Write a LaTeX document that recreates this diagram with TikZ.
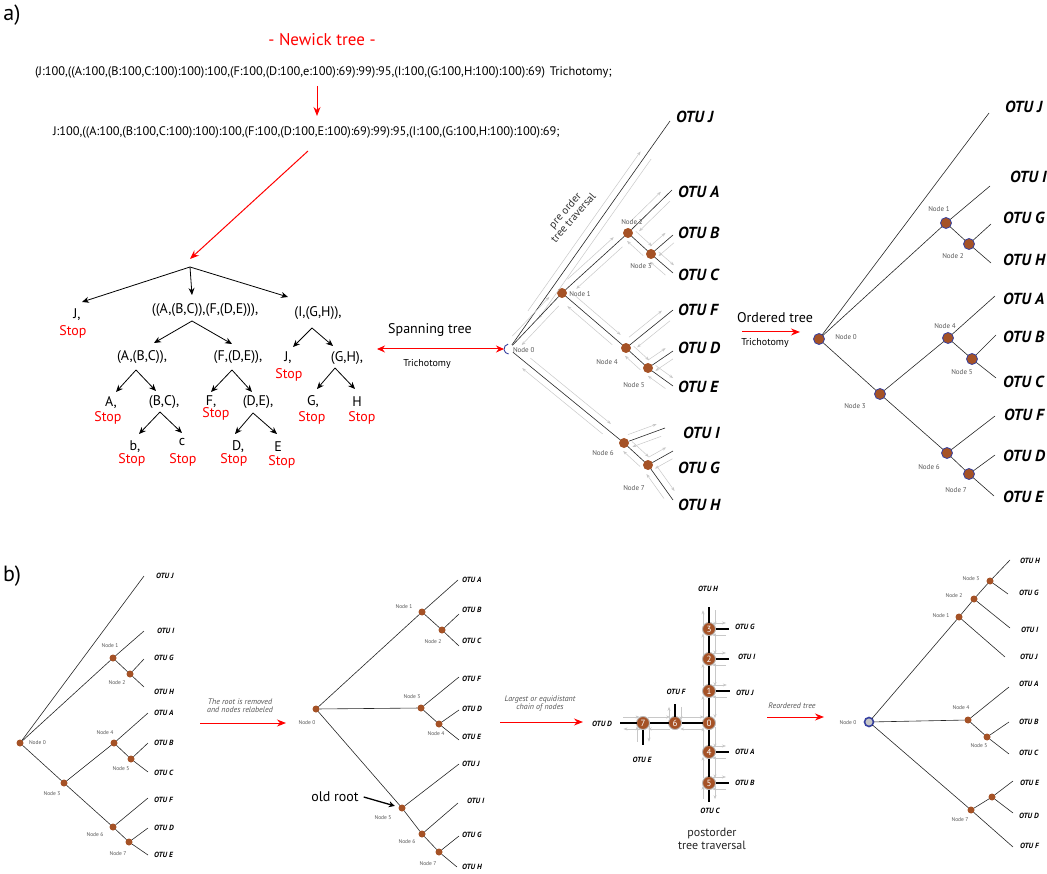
\documentclass[tikz,border=0pt]{standalone}
\usepackage{fontspec}
\setmainfont{PT Sans}
\usetikzlibrary{arrows.meta,calc}
\definecolor{nodebrown}{RGB}{165,82,38}
\definecolor{nodeblue}{RGB}{55,65,160}
\definecolor{labgray}{RGB}{85,85,85}
\definecolor{travgray}{RGB}{200,200,200}
\newcommand\myfs[1]{\fontsize{#1}{#1}\selectfont}
\newcommand\travpair[3]{%
 \draw[trav] ($(#1)!0.15!(#2)!#3!90:(#2)$) -- ($(#1)!0.85!(#2)!#3!-90:(#1)$);
 \draw[trav] ($(#2)!0.15!(#1)!#3!90:(#1)$) -- ($(#2)!0.85!(#1)!#3!-90:(#2)$);}
\tikzset{
 every node/.style={inner sep=0pt, outer sep=0pt},
 expr/.style={font=\myfs{14}},
 stopl/.style={font=\myfs{14}, text=red},
 earr/.style={-{Stealth[length=7pt,width=6pt]}, line width=0.8pt},
 redarr/.style={red, line width=1pt, -{Stealth[length=9pt,width=7pt]}},
 redboth/.style={red, line width=1pt, {Stealth[length=8pt,width=7pt]}-{Stealth[length=8pt,width=7pt]}},
 otuL/.style={font=\myfs{16}\bfseries\itshape, anchor=west},
 otuS/.style={font=\myfs{7.5}\bfseries\itshape},
 nlabL/.style={font=\myfs{7}, text=labgray},
 nlabS/.style={font=\myfs{5.5}, text=labgray},
 brline/.style={line width=0.6pt, black!85},
 dotL/.style={circle, fill=nodebrown, minimum size=10pt},
 dotLb/.style={circle, fill=nodebrown, draw=nodeblue, line width=0.8pt, minimum size=11pt},
 dotS/.style={circle, fill=nodebrown, minimum size=7pt},
 trav/.style={travgray, line width=0.5pt, -{Stealth[length=4pt,width=3pt]}},
 chainnode/.style={circle, fill=nodebrown, draw=gray!55, line width=0.9pt, minimum size=13pt, text=white, font=\myfs{9}},
 chainline/.style={line width=2pt, black},
 note/.style={font=\myfs{8}\itshape, text=labgray, align=center},
}
\begin{document}
\begin{tikzpicture}[x=1pt,y=-1pt]
\path[use as bounding box] (0,0) rectangle (1047,874);

% ---------------- part a ----------------
\node[font=\myfs{22}] (la) at (12,15) {a)};
\node[font=\myfs{17}, text=red] (newtitle) at (322,40) {- Newick tree -};
\node[font=\myfs{12.4}, anchor=west] (nw1) at (35,72) {(J:100,((A:100,(B:100,C:100):100):100,(F:100,(D:100,e:100):69):99):95,(I:100,(G:100,H:100):100):69)\hspace{1.5pt} Trichotomy;};
\node[font=\myfs{12.4}, anchor=west] (nw2) at (53,132) {J:100,((A:100,(B:100,C:100):100):100,(F:100,(D:100,E:100):69):99):95,(I:100,(G:100,H:100):100):69;};
\coordinate (ra1s) at (317,86);
\coordinate (ra1e) at (317,116);
\draw[redarr] (ra1s) -- (ra1e);
\coordinate (ra2s) at (308,151);
\coordinate (ra2e) at (190,259);
\draw[redarr] (ra2s) -- (ra2e);

% expression tree
\node[expr] (eJ) at (77,315) {J,};
\node[stopl] (sJ) at (73,332) {Stop};
\node[expr] (eM) at (205,310) {((A,(B,C)),(F,(D,E))),};
\node[expr] (eR) at (318,313) {(I,(G,H)),};
\node[expr] (eABC) at (142,357) {(A,(B,C)),};
\node[expr] (eFDE) at (238,357) {(F,(D,E)),};
\node[expr] (eA) at (111,403) {A,};
\node[stopl] (sA) at (108,418) {Stop};
\node[expr] (eBC) at (164,402) {(B,C),};
\node[expr] (eF) at (211,402) {F,};
\node[stopl] (sF) at (216,414) {Stop};
\node[expr] (eDE) at (258,402) {(D,E),};
\node[expr] (eb) at (135,447) {b,};
\node[stopl] (sb) at (132,460) {Stop};
\node[expr] (ec) at (182,442) {c};
\node[stopl] (sc) at (183,460) {Stop};
\node[expr] (eD) at (238,447) {D,};
\node[stopl] (sD) at (234,460) {Stop};
\node[expr] (eE) at (278,447) {E};
\node[stopl] (sE) at (282,462) {Stop};
\node[expr] (eJ2) at (288,358) {J,};
\node[stopl] (sJ2) at (289,375) {Stop};
\node[expr] (eGH) at (347,358) {(G,H),};
\node[expr] (eG) at (313,402) {G,};
\node[stopl] (sG) at (312,418) {Stop};
\node[expr] (eH) at (357,402) {H};
\node[stopl] (sH) at (362,418) {Stop};

\coordinate (jr) at (190,267);
\draw[earr] (jr) -- ++(-108,35);
\draw[earr] (jr) -- ++(2,28);
\draw[earr] (jr) -- ++(98,30);
\coordinate (jm) at (192,321);
\draw[earr] (jm) -- ++(-38,22);
\draw[earr] (jm) -- ++(40,23);
\coordinate (jabc) at (136,370);
\draw[earr] (jabc) -- ++(-20,22);
\draw[earr] (jabc) -- ++(20,21);
\coordinate (jbc) at (160,412);
\draw[earr] (jbc) -- ++(-21,22);
\draw[earr] (jbc) -- ++(22,21);
\coordinate (jfde) at (232,370);
\draw[earr] (jfde) -- ++(-21,22);
\draw[earr] (jfde) -- ++(20,22);
\coordinate (jde) at (253,413);
\draw[earr] (jde) -- ++(-18,21);
\draw[earr] (jde) -- ++(24,21);
\coordinate (jir) at (312,328);
\draw[earr] (jir) -- ++(-19,19);
\draw[earr] (jir) -- ++(21,18);
\coordinate (jgh) at (335,368);
\draw[earr] (jgh) -- ++(-18,21);
\draw[earr] (jgh) -- ++(20,21);

% spanning tree arrow
\node[font=\myfs{14}] (spt) at (430,330) {Spanning tree};
\node[font=\myfs{10}] (tri1) at (427,364) {Trichotomy};

% middle tree
\node[circle, minimum size=10pt] (m0) at (509,349) {};
\draw[nodeblue, line width=0.9pt] ([shift={(100:5pt)}]m0.center) arc[start angle=100, end angle=265, radius=5pt];
\coordinate (sps) at (377,349);
\draw[redboth] (sps) -- (m0);
\node[dotL] (m1) at (562,293) {};
\node[dotL] (m2) at (628,233) {};
\node[dotL] (m3) at (651,254) {};
\node[dotL] (m4) at (626,348) {};
\node[dotL] (m5) at (648,368) {};
\node[dotL] (m6) at (624,443) {};
\node[dotL] (m7) at (648,465) {};
\coordinate (mJ) at (670,121);
\coordinate (mA) at (672,190);
\coordinate (mB) at (673,235);
\coordinate (mC) at (673,273);
\coordinate (mF) at (673,310);
\coordinate (mD) at (673,351);
\coordinate (mE) at (673,386);
\coordinate (mI) at (665,428);
\coordinate (mG) at (673,451);
\coordinate (mH) at (673,500);
\foreach \a/\b in {m0/mJ, m0/m1, m1/m2, m2/mA, m2/m3, m3/mB, m3/mC, m1/m4, m4/mF, m4/m5, m5/mD, m5/mE, m0/m6, m6/mI, m6/m7, m7/mG, m7/mH}
  {\draw[brline] (\a) -- (\b); \travpair{\a}{\b}{6.5pt}}
\node[otuL] (tJ) at (676,117) {OTU J};
\node[otuL] (tA) at (678,192) {OTU A};
\node[otuL] (tB) at (678,233) {OTU B};
\node[otuL] (tC) at (678,275) {OTU C};
\node[otuL] (tF) at (678,310) {OTU F};
\node[otuL] (tD) at (678,348) {OTU D};
\node[otuL] (tE) at (678,387) {OTU E};
\node[otuL] (tI) at (683,433) {OTU I};
\node[otuL] (tG) at (678,468) {OTU G};
\node[otuL] (tH) at (678,505) {OTU H};
\node[nlabL, anchor=west] (ml0) at (513,350) {Node 0};
\node[nlabL] (ml1) at (580,294) {Node 1};
\node[nlabL] (ml2) at (632,222) {Node 2};
\node[nlabL] (ml3) at (641,266) {Node 3};
\node[nlabL] (ml4) at (607,362) {Node 4};
\node[nlabL] (ml5) at (634,385) {Node 5};
\node[nlabL] (ml6) at (603,453) {Node 6};
\node[nlabL] (ml7) at (634,488) {Node 7};
\node[font=\myfs{11}, align=center, rotate=49, text=black!80] (preo) at (569,214) {pre order\\tree traversal};

% ordered tree
\node[font=\myfs{14}] (ordt) at (775,318) {Ordered tree};
\coordinate (oas) at (742,332);
\coordinate (oae) at (800,332);
\draw[redarr] (oas) -- (oae);
\node[font=\myfs{10}] (tri2) at (765,343) {Trichotomy};

\node[dotLb] (r0) at (819,339) {};
\node[dotLb] (r1) at (946,223) {};
\node[dotLb] (r2) at (969,244) {};
\node[dotLb] (r3) at (880,394) {};
\node[dotLb] (r4) at (948,338) {};
\node[dotLb] (r5) at (972,359) {};
\node[dotLb] (r6) at (947,453) {};
\node[dotLb] (r7) at (969,474) {};
\coordinate (rJ) at (989,113);
\coordinate (rI) at (990,186);
\coordinate (rG) at (991,224);
\coordinate (rH) at (991,263);
\coordinate (rA) at (995,296);
\coordinate (rB) at (996,335);
\coordinate (rC) at (996,378);
\coordinate (rF) at (995,416);
\coordinate (rD) at (995,455);
\coordinate (rE) at (994,496);
\foreach \a/\b in {r0/rJ, r0/r1, r1/rI, r1/r2, r2/rG, r2/rH, r0/r3, r3/r4, r4/rA, r4/r5, r5/rB, r5/rC, r3/r6, r6/rF, r6/r7, r7/rD, r7/rE}
  {\draw[brline] (\a) -- (\b);}
\node[otuL] (uJ) at (1005,107) {OTU J};
\node[otuL] (uI) at (1010,177) {OTU I};
\node[otuL] (uG) at (1003,218) {OTU G};
\node[otuL] (uH) at (1003,260) {OTU H};
\node[otuL] (uA) at (1003,299) {OTU A};
\node[otuL] (uB) at (1003,337) {OTU B};
\node[otuL] (uC) at (1003,382) {OTU C};
\node[otuL] (uF) at (1004,415) {OTU F};
\node[otuL] (uD) at (1003,456) {OTU D};
\node[otuL] (uE) at (1003,497) {OTU E};
\node[nlabL] (rl0) at (846,337) {Node 0};
\node[nlabL] (rl1) at (939,209) {Node 1};
\node[nlabL] (rl2) at (953,256) {Node 2};
\node[nlabL] (rl3) at (855,406) {Node 3};
\node[nlabL] (rl4) at (945,326) {Node 4};
\node[nlabL] (rl5) at (962,372) {Node 5};
\node[nlabL] (rl6) at (929,467) {Node 6};
\node[nlabL] (rl7) at (956,490) {Node 7};

% ---------------- part b ----------------
\node[font=\myfs{22}] (lb) at (12,576) {b)};

% tree 1
\node[dotS] (b0) at (20,743) {};
\node[dotS] (b1) at (113,658) {};
\node[dotS] (b2) at (130,674) {};
\node[dotS] (b3) at (64,783) {};
\node[dotS] (b4) at (114,743) {};
\node[dotS] (b5) at (131,759) {};
\node[dotS] (b6) at (113,827) {};
\node[dotS] (b7) at (129,842) {};
\coordinate (bJ) at (144,576);
\coordinate (bI) at (144,631);
\coordinate (bG) at (144,659);
\coordinate (bH) at (144,687);
\coordinate (bA) at (148,713);
\coordinate (bB) at (148,743);
\coordinate (bC) at (148,772);
\coordinate (bF) at (148,798);
\coordinate (bD) at (148,828);
\coordinate (bE) at (148,855);
\foreach \a/\b in {b0/bJ, b0/b1, b1/bI, b1/b2, b2/bG, b2/bH, b0/b3, b3/b4, b4/bA, b4/b5, b5/bB, b5/bC, b3/b6, b6/bF, b6/b7, b7/bD, b7/bE}
  {\draw[brline] (\a) -- (\b);}
\node[otuS, anchor=west] (vJ) at (156,576) {OTU J};
\node[otuS, anchor=west] (vI) at (157,631) {OTU I};
\node[otuS, anchor=west] (vG) at (154,658) {OTU G};
\node[otuS, anchor=west] (vH) at (154,692) {OTU H};
\node[otuS, anchor=west] (vA) at (154,713) {OTU A};
\node[otuS, anchor=west] (vB) at (154,743) {OTU B};
\node[otuS, anchor=west] (vC) at (154,773) {OTU C};
\node[otuS, anchor=west] (vF) at (154,800) {OTU F};
\node[otuS, anchor=west] (vD) at (154,828) {OTU D};
\node[otuS, anchor=west] (vE) at (154,855) {OTU E};
\node[nlabS, anchor=west] (bl0) at (29,743) {Node 0};
\node[nlabS] (bl1) at (110,646) {Node 1};
\node[nlabS] (bl2) at (117,683) {Node 2};
\node[nlabS] (bl3) at (52,794) {Node 3};
\node[nlabS] (bl4) at (105,733) {Node 4};
\node[nlabS] (bl5) at (121,769) {Node 5};
\node[nlabS] (bl6) at (95,835) {Node 6};
\node[nlabS] (bl7) at (118,854) {Node 7};

% arrow 1
\node[note] (n1) at (240,706) {The root is removed\\and nodes relabeled};
\coordinate (a1s) at (200,723);
\coordinate (a1e) at (286,723);
\draw[redarr] (a1s) -- (a1e);

% tree 2
\node[dotS] (c0) at (316,709) {};
\node[dotS] (c1) at (422,612) {};
\node[dotS] (c2) at (442,630) {};
\node[dotS] (c3) at (421,708) {};
\node[dotS] (c4) at (439,724) {};
\node[dotS] (c5) at (402,808) {};
\node[dotS] (c6) at (422,834) {};
\node[dotS] (c7) at (439,852) {};
\coordinate (cA) at (458,580);
\coordinate (cB) at (459,614);
\coordinate (cC) at (459,646);
\coordinate (cF) at (459,677);
\coordinate (cD) at (459,710);
\coordinate (cE) at (459,740);
\coordinate (cJ) at (459,764);
\coordinate (cI) at (458,803);
\coordinate (cG) at (459,836);
\coordinate (cH) at (457,867);
\foreach \a/\b in {c0/c1, c1/cA, c1/c2, c2/cB, c2/cC, c0/c3, c3/cF, c3/c4, c4/cD, c4/cE, c0/c5, c5/cJ, c5/c6, c6/cI, c6/c7, c7/cG, c7/cH}
  {\draw[brline] (\a) -- (\b);}
\node[otuS, anchor=west] (wA) at (462,580) {OTU A};
\node[otuS, anchor=west] (wB) at (462,610) {OTU B};
\node[otuS, anchor=west] (wC) at (462,641) {OTU C};
\node[otuS, anchor=west] (wF) at (462,679) {OTU F};
\node[otuS, anchor=west] (wD) at (462,709) {OTU D};
\node[otuS, anchor=west] (wE) at (462,737) {OTU E};
\node[otuS, anchor=west] (wJ) at (462,764) {OTU J};
\node[otuS, anchor=west] (wI) at (467,801) {OTU I};
\node[otuS, anchor=west] (wG) at (462,835) {OTU G};
\node[otuS, anchor=west] (wH) at (462,867) {OTU H};
\node[nlabS] (cl0) at (307,723) {Node 0};
\node[nlabS] (cl1) at (404,607) {Node 1};
\node[nlabS] (cl2) at (433,642) {Node 2};
\node[nlabS] (cl3) at (412,697) {Node 3};
\node[nlabS] (cl4) at (436,734) {Node 4};
\node[nlabS] (cl5) at (383,818) {Node 5};
\node[nlabS] (cl6) at (407,842) {Node 6};
\node[nlabS] (cl7) at (428,864) {Node 7};
\node[font=\myfs{14}] (oldr) at (335,797) {old root};
\draw[line width=1.3pt, -{Stealth[length=6pt,width=6pt]}, shorten >=4pt] ([xshift=5pt]oldr.east) -- (c5);

% arrow 2
\node[note] (n2) at (540,703) {Largest or equidistant\\chain of nodes};
\coordinate (a2s) at (500,722);
\coordinate (a2e) at (583,722);
\draw[redarr] (a2s) -- (a2e);

% chain
\coordinate (kt) at (709,607);
\coordinate (kb) at (709,802);
\coordinate (kl) at (620,723);
\coordinate (kF) at (675,704);
\coordinate (kE) at (643,745);
\coordinate (kG) at (729,629);
\coordinate (kI) at (729,659);
\coordinate (kJ) at (730,691);
\coordinate (kA) at (729,752);
\coordinate (kB) at (729,783);
\node[chainnode] (k0) at (709,723) {0};
\node[chainnode] (k1) at (709,691) {1};
\node[chainnode] (k2) at (709,659) {2};
\node[chainnode] (k3) at (709,629) {3};
\node[chainnode] (k4) at (709,752) {4};
\node[chainnode] (k5) at (709,783) {5};
\node[chainnode] (k6) at (675,723) {6};
\node[chainnode] (k7) at (643,723) {7};
\foreach \a/\b in {kt/k3, k3/k2, k2/k1, k1/k0, k0/k4, k4/k5, k5/kb, k3/kG, k2/kI, k1/kJ, k4/kA, k5/kB, k0/k6, k6/k7, k7/kl, k6/kF, k7/kE}
  {\draw[chainline] (\a) -- (\b); \travpair{\a}{\b}{6pt}}
\node[otuS] (xH) at (708,589) {OTU H};
\node[otuS, anchor=west] (xG) at (735,627) {OTU G};
\node[otuS, anchor=west] (xI) at (738,657) {OTU I};
\node[otuS, anchor=west] (xJ) at (736,693) {OTU J};
\node[otuS, anchor=west] (xA) at (735,752) {OTU A};
\node[otuS, anchor=west] (xB) at (735,783) {OTU B};
\node[otuS] (xC) at (710,811) {OTU C};
\node[otuS] (xF) at (676,692) {OTU F};
\node[otuS] (xD) at (602,724) {OTU D};
\node[otuS] (xE) at (642,760) {OTU E};
\node[font=\myfs{12}, align=center, text=black!85] (post) at (712,839) {postorder\\[1pt]tree traversal};

% arrow 3
\node[note] (n3) at (792,706) {Reordered tree};
\coordinate (a3s) at (767,717);
\coordinate (a3e) at (824,717);
\draw[redarr] (a3s) -- (a3e);

% tree 4
\node[circle, fill=gray!45, draw=nodeblue, line width=1.6pt, minimum size=9pt] (d0) at (869,722) {};
\node[dotS] (d1) at (959,617) {};
\node[dotS] (d2) at (974,599) {};
\node[dotS] (d3) at (990,581) {};
\node[dotS] (d4) at (968,720) {};
\node[dotS] (d5) at (987,737) {};
\node[dotS] (d7) at (971,810) {};
\node[dotS] (d8) at (992,797) {};
\coordinate (dH) at (1010,560);
\coordinate (dG) at (1008,594);
\coordinate (dI) at (1010,628);
\coordinate (dJ) at (1005,657);
\coordinate (dA) at (1009,687);
\coordinate (dB) at (1009,722);
\coordinate (dC) at (1009,754);
\coordinate (dE) at (1013,781);
\coordinate (dD) at (1013,813);
\coordinate (dF) at (1013,847);
\foreach \a/\b in {d0/d1, d1/d2, d2/d3, d3/dH, d3/dG, d2/dI, d1/dJ, d0/d4, d4/dA, d4/d5, d5/dB, d5/dC, d0/d7, d7/d8, d8/dE, d8/dD, d7/dF}
  {\draw[brline] (\a) -- (\b);}
\node[otuS, anchor=west] (yH) at (1020,561) {OTU H};
\node[otuS, anchor=west] (yG) at (1019,593) {OTU G};
\node[otuS, anchor=west] (yI) at (1021,630) {OTU I};
\node[otuS, anchor=west] (yJ) at (1020,657) {OTU J};
\node[otuS, anchor=west] (yA) at (1019,684) {OTU A};
\node[otuS, anchor=west] (yB) at (1019,722) {OTU B};
\node[otuS, anchor=west] (yC) at (1019,753) {OTU C};
\node[otuS, anchor=west] (yE) at (1020,783) {OTU E};
\node[otuS, anchor=west] (yD) at (1019,816) {OTU D};
\node[otuS, anchor=west] (yF) at (1020,846) {OTU F};
\node[nlabS] (dl0) at (848,723) {Node 0};
\node[nlabS] (dl1) at (941,616) {Node 1};
\node[nlabS] (dl2) at (954,596) {Node 2};
\node[nlabS] (dl3) at (971,579) {Node 3};
\node[nlabS] (dl4) at (961,708) {Node 4};
\node[nlabS] (dl5) at (979,746) {Node 5};
\node[nlabS] (dl7) at (960,820) {Node 7};
\end{tikzpicture}
\end{document}
